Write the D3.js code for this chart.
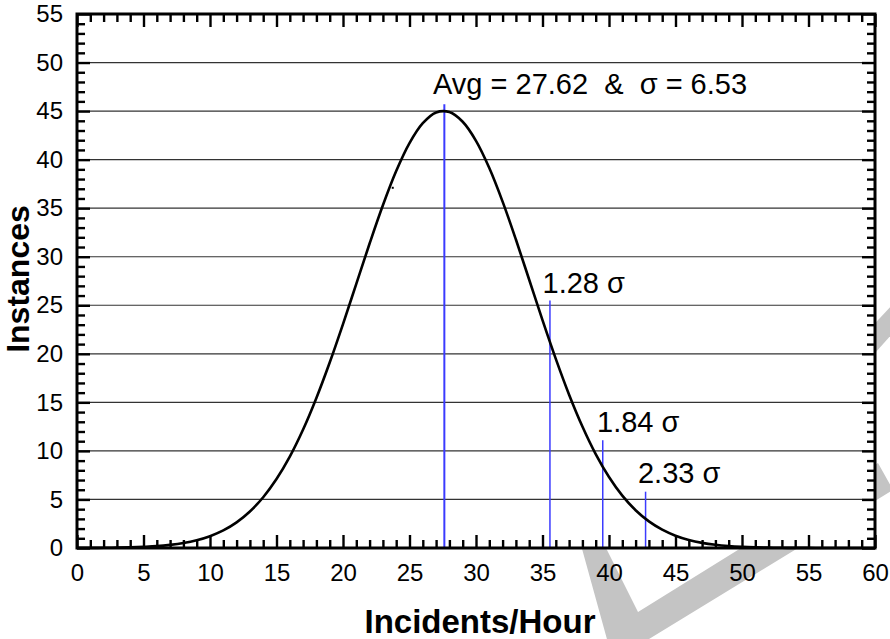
<!DOCTYPE html>
<html>
<head>
<meta charset="utf-8">
<script src="https://cdn.jsdelivr.net/npm/d3@7"></script>
<style>
  html, body { margin: 0; padding: 0; background: #fff; }
  svg { display: block; font-family: "Liberation Sans", Arial, Helvetica, sans-serif; }
</style>
</head>
<body>
<svg id="chart" width="890" height="639"></svg>
<script>
// ---------- data ----------
const incidentsPerHour = d3.range(0, 61); // x samples 0..60
const instances = [
  0.01, 0.01, 0.02, 0.04, 0.07, 0.12, 0.19, 0.32, 0.51, 0.80,
  1.22, 1.81, 2.64, 3.76, 5.23, 7.10, 9.41, 12.20, 15.45, 19.10,
  23.06, 27.21, 31.36, 35.30, 38.82, 41.70, 43.75, 44.86, 44.90, 43.90,
  41.94, 39.14, 35.68, 31.77, 27.63, 23.47, 19.48, 15.79, 12.51, 9.67,
  7.31, 5.39, 3.89, 2.74, 1.89, 1.27, 0.83, 0.53, 0.33, 0.20,
  0.12, 0.07, 0.04, 0.02, 0.01, 0.01, 0.0, 0.0, 0.0, 0.0, 0.0
];
const markerLabels = ["Avg = 27.62  &  σ = 6.53", "1.28 σ", "1.84 σ", "2.33 σ"];
const markerX      = [27.62, 35.56, 39.53, 42.75];
const markerTop    = [45.7, 25.5, 11.1, 5.8];
const labelX       = [26.77, 35.0, 39.1, 42.18];
const labelY       = [46.76, 26.26, 11.95, 6.7];
const xTickLabels  = d3.range(0, 61, 5);
const yTickLabels  = d3.range(0, 56, 5);
const xTitle = "Incidents/Hour";
const yTitle = "Instances";

// ---------- layout ----------
const svg = d3.select("#chart");
const L = 77, R = 875, T = 14, B = 548;
const x = d3.scaleLinear().domain([0, 60]).range([L, R]);
const y = d3.scaleLinear().domain([0, 55]).range([B, T]);
const font = '"Liberation Sans", Arial, Helvetica, sans-serif';

// ---------- watermark (behind plot) ----------
const wm = svg.append("g").attr("fill", "#c4c4c4");
wm.append("path").attr("d",
  "M563,480 L613,661 L893,490 L878,463 L638,612 L572,480 Z");
wm.append("path").attr("d",
  "M850,350 L892,305 L892,334 L850,381 Z");

// plot background
svg.append("rect").attr("x", L).attr("y", T).attr("width", R - L).attr("height", B - T)
  .attr("fill", "#fff");

// ---------- grid ----------
svg.append("g").selectAll("line").data(d3.range(5, 55, 5)).join("line")
  .attr("x1", L).attr("x2", R)
  .attr("y1", d => y(d)).attr("y2", d => y(d))
  .attr("stroke", "#333").attr("stroke-width", 1.2);

// ---------- ticks ----------
function styleAxis(g) {
  g.select(".domain").remove();
  g.selectAll(".tick line").attr("stroke", "#000").attr("stroke-width", 2.4);
  g.selectAll("text").attr("font-family", font).attr("font-size", 24).attr("fill", "#000");
}
const minorX = d3.range(0, 61).filter(d => d % 5 !== 0);
const minorY = d3.range(0, 56).filter(d => d % 5 !== 0);

// bottom
svg.append("g").attr("transform", `translate(0,${B})`)
  .call(d3.axisBottom(x).tickValues(minorX).tickSize(-8).tickFormat(""))
  .call(styleAxis);
svg.append("g").attr("transform", `translate(0,${B})`)
  .call(d3.axisBottom(x).tickValues(xTickLabels).tickSize(-13).tickPadding(16).tickFormat(d3.format("d")))
  .call(styleAxis);
// top
svg.append("g").attr("transform", `translate(0,${T})`)
  .call(d3.axisTop(x).tickValues(minorX).tickSize(-8).tickFormat(""))
  .call(styleAxis);
svg.append("g").attr("transform", `translate(0,${T})`)
  .call(d3.axisTop(x).tickValues(xTickLabels).tickSize(-13).tickFormat(""))
  .call(styleAxis);
// left
svg.append("g").attr("transform", `translate(${L},0)`)
  .call(d3.axisLeft(y).tickValues(minorY).tickSize(-8).tickFormat(""))
  .call(styleAxis);
svg.append("g").attr("transform", `translate(${L},0)`)
  .call(d3.axisLeft(y).tickValues(yTickLabels).tickSize(-13).tickPadding(14).tickFormat(d3.format("d")))
  .call(styleAxis);
// right
svg.append("g").attr("transform", `translate(${R},0)`)
  .call(d3.axisRight(y).tickValues(minorY).tickSize(-8).tickFormat(""))
  .call(styleAxis);
svg.append("g").attr("transform", `translate(${R},0)`)
  .call(d3.axisRight(y).tickValues(yTickLabels).tickSize(-13).tickFormat(""))
  .call(styleAxis);

// ---------- sigma marker lines ----------
svg.append("g").selectAll("line").data(markerX).join("line")
  .attr("x1", d => x(d)).attr("x2", d => x(d))
  .attr("y1", y(0)).attr("y2", (d, i) => y(markerTop[i]))
  .attr("stroke", "#3b3bff")
  .attr("stroke-width", (d, i) => i === 0 ? 2 : 1.5);

// ---------- curve ----------
const line = d3.line()
  .x((d, i) => x(incidentsPerHour[i]))
  .y(d => y(d))
  .curve(d3.curveCatmullRom);
svg.append("path").datum(instances)
  .attr("d", line)
  .attr("fill", "none").attr("stroke", "#000").attr("stroke-width", 2.6);

// small stray mark on the curve
svg.append("rect").attr("x", x(23.74) - 1).attr("y", y(37.1) - 1)
  .attr("width", 2).attr("height", 2).attr("fill", "#000");

// ---------- frame ----------
svg.append("rect").attr("x", L).attr("y", T).attr("width", R - L).attr("height", B - T)
  .attr("fill", "none").attr("stroke", "#000").attr("stroke-width", 3);

// ---------- annotations ----------
svg.append("g").selectAll("text").data(markerLabels).join("text")
  .attr("x", (d, i) => x(labelX[i]))
  .attr("y", (d, i) => y(labelY[i]))
  .attr("font-family", font).attr("font-size", 29).attr("fill", "#000")
  .attr("xml:space", "preserve").style("white-space", "pre")
  .text(d => d);

// ---------- axis titles ----------
svg.append("text").attr("x", 480).attr("y", 633)
  .attr("text-anchor", "middle")
  .attr("font-family", font).attr("font-size", 33).attr("font-weight", "bold")
  .text(xTitle);
svg.append("text")
  .attr("transform", `translate(29,279) rotate(-90)`)
  .attr("text-anchor", "middle")
  .attr("font-family", font).attr("font-size", 32).attr("font-weight", "bold")
  .text(yTitle);
</script>
</body>
</html>
